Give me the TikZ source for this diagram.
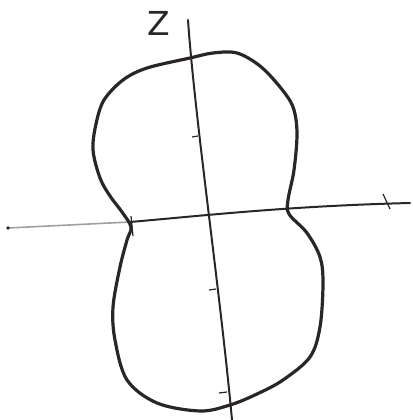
\documentclass[tikz,border=0pt]{standalone}
\usepackage{fontspec}
\setmainfont{DejaVu Sans}
\definecolor{ink}{HTML}{2B2626}
\definecolor{faint}{HTML}{A0A0A0}
\tikzset{
  curve/.style={draw=ink, line width=3.2pt, line join=round},
  axis/.style={draw=ink, line width=2pt, line cap=round},
  faintaxis/.style={draw=faint, line width=1.6pt, line cap=round},
  tick/.style={draw=ink, line width=1.2pt},
  lbl/.style={text=ink, font=\fontsize{33}{33}\selectfont, inner sep=0pt}
}
\begin{document}
\begin{tikzpicture}[x=1pt,y=-1pt]
\useasboundingbox (0,0) rectangle (412,420);
% horizontal axis
\coordinate (hl) at (8,228);
\coordinate (hm) at (130,222);
\coordinate (hr) at (410,203);
\draw[faintaxis] (hl) -- (hm);
\fill[ink] (hl) circle (1.8pt);
\draw[axis] (hm) .. controls (210,215) and (290,206) .. (hr);
% vertical axis
\coordinate (vt) at (188,20);
\coordinate (vb) at (232,420);
\draw[axis] (vt) .. controls (195,120) and (220,290) .. (vb);
% ticks
\draw[tick] (383,194) -- (390,209);
\draw[tick] (131,216) -- (133,236);
\draw[tick] (192,137) -- (198,136);
\draw[tick] (209,290) -- (216,289);
\draw[tick] (219,393) -- (227,392);
% curve
\draw[curve] plot[smooth cycle, tension=0.55] coordinates {
 (190,58) (213,53) (237,53) (260,66) (280,87) (293,107) (297,133) (294,170)
 (288,200) (289,214) (307,233) (320,257) (323,283) (320,327) (310,357)
 (283,380) (257,394) (230,405) (200,411) (157,403) (127,380) (115,340)
 (113,307) (120,267) (127,240) (131,227) (122,212) (110,196) (100,178)
 (93,150) (96,124) (104,100) (123,80) (147,68) };
% label
\node[lbl] (z) at (159,23) {Z};
\end{tikzpicture}
\end{document}
